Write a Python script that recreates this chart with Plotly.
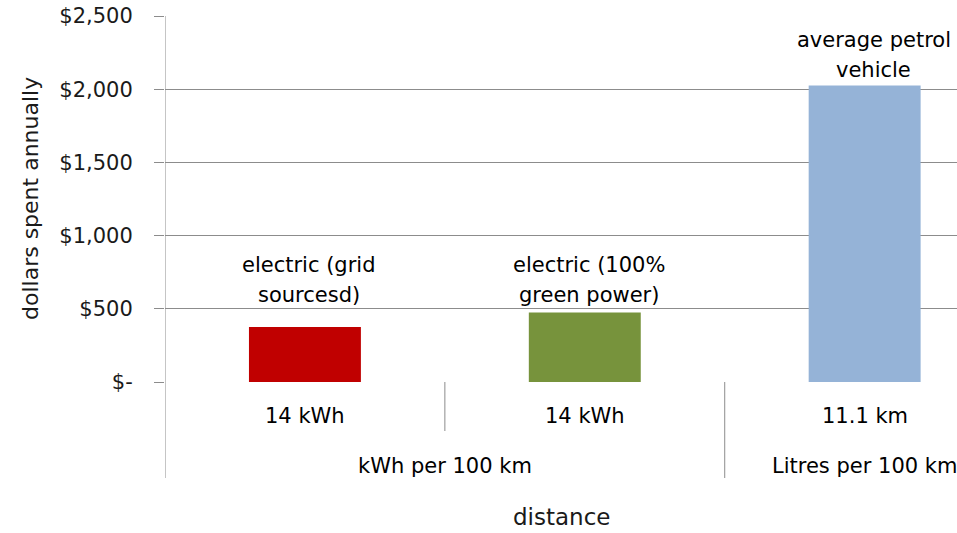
import plotly.graph_objects as go

# Annual running cost by vehicle type
categories = ["electric (grid<br>sourcesd)", "electric (100%<br>green power)", "average petrol<br>vehicle"]
costs = [375, 475, 2025]
bar_colors = ["#C00000", "#77933C", "#95B3D7"]
consumption_labels = ["14 kWh", "14 kWh", "11.1 km"]
group_labels = ["kWh per 100 km", "Litres per 100 km"]
group_spans = [(0, 1), (2, 2)]
tick_values = [0, 500, 1000, 1500, 2000, 2500]
tick_labels = ["$-", "$500", "$1,000", "$1,500", "$2,000", "$2,500"]

# label placement (pixels): gap between bar top and last line, horizontal nudge
label_gap = [32, 17, 16]
label_nudge = [4, 4, 9]
LINE_STEP = 30

FONT = "DejaVu Sans, sans-serif"
GRID = "#8C8C8C"
TEXT = "#1A1A1A"
PLOT_H = 533 - 16 - 151

x_pos = list(range(len(costs)))

fig = go.Figure(go.Bar(
    x=x_pos, y=costs, width=0.4,
    marker=dict(color=bar_colors, line=dict(width=0)),
    hoverinfo="skip",
))

# data labels above bars, one annotation per line
for xi, (lab, v) in enumerate(zip(categories, costs)):
    lines = lab.split("<br>")
    n = len(lines)
    for k, line in enumerate(lines):
        fig.add_annotation(x=xi, y=v, xref="x", yref="y", text=line, showarrow=False,
                           yanchor="middle", xshift=label_nudge[xi],
                           yshift=label_gap[xi] + (n - 1 - k) * LINE_STEP,
                           font=dict(family=FONT, size=21, color="#000000"))

# category labels under the axis
for xi, lab in enumerate(consumption_labels):
    fig.add_annotation(x=xi, y=0, xref="x", yref="paper", text=lab, showarrow=False,
                       yanchor="middle", yshift=-34,
                       font=dict(family=FONT, size=21, color="#000000"))

# group labels
for lab, (a, b) in zip(group_labels, group_spans):
    fig.add_annotation(x=(a + b) / 2, y=0, xref="x", yref="paper", text=lab, showarrow=False,
                       yanchor="middle", yshift=-84,
                       font=dict(family=FONT, size=21, color="#000000"))

# axis titles
fig.add_annotation(x=0.5, y=0, xref="paper", yref="paper", text="distance", showarrow=False,
                   yanchor="middle", yshift=-135,
                   font=dict(family=FONT, size=23, color=TEXT))
fig.add_annotation(x=0, y=0.5, xref="paper", yref="paper", text="dollars spent annually",
                   showarrow=False, textangle=-90, xanchor="center", xshift=-135,
                   font=dict(family=FONT, size=22, color=TEXT))

# divider lines of the category axis
def px_to_paper(px):
    return -px / PLOT_H

fig.add_shape(type="line", xref="x", yref="paper", x0=0.5, x1=0.5, y0=0, y1=px_to_paper(49),
              line=dict(color=GRID, width=1))
fig.add_shape(type="line", xref="x", yref="paper", x0=1.5, x1=1.5, y0=0, y1=px_to_paper(96),
              line=dict(color=GRID, width=1))
fig.add_shape(type="line", xref="x", yref="paper", x0=-0.5, x1=-0.5, y0=1, y1=px_to_paper(96),
              line=dict(color=GRID, width=1))

fig.update_layout(
    width=957, height=533,
    margin=dict(l=165, r=0, t=16, b=151),
    plot_bgcolor="white", paper_bgcolor="white",
    showlegend=False,
    font=dict(family=FONT, color=TEXT),
    xaxis=dict(range=[-0.5, 2.33], showticklabels=False, showgrid=False, zeroline=False,
               ticks="", fixedrange=True),
    yaxis=dict(range=[0, 2500], tickvals=tick_values, ticktext=tick_labels,
               showgrid=True, gridcolor=GRID, gridwidth=1,
               zeroline=False, showline=False,
               ticks="outside", ticklen=10, tickcolor=GRID,
               ticklabelstandoff=17,
               tickfont=dict(family=FONT, size=21, color=TEXT)),
)

fig.write_html("out.html")
